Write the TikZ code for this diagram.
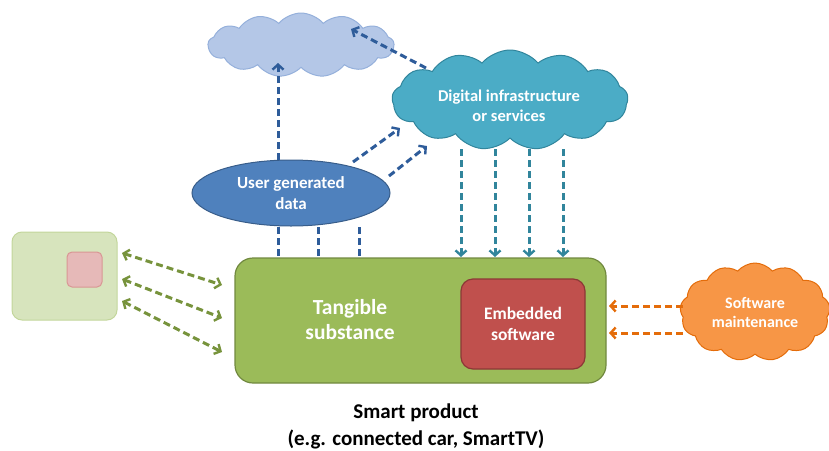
\documentclass[tikz,border=0pt]{standalone}
\usepackage{fontspec}
\setmainfont{Carlito}
\usetikzlibrary{shapes.symbols,shapes.geometric,arrows.meta}
\definecolor{lcloud}{HTML}{B4C7E7}
\definecolor{lcloudb}{HTML}{95B0DB}
\definecolor{dcloud}{HTML}{4BACC6}
\definecolor{dcloudb}{HTML}{31859C}
\definecolor{ugd}{HTML}{4F81BD}
\definecolor{ugdb}{HTML}{385D8A}
\definecolor{gbox}{HTML}{9BBB59}
\definecolor{gboxb}{HTML}{71893F}
\definecolor{rbox}{HTML}{C0504D}
\definecolor{rboxb}{HTML}{8C3836}
\definecolor{lgreen}{HTML}{D7E4BD}
\definecolor{lgreenb}{HTML}{C3D69B}
\definecolor{pink}{HTML}{E6B9B8}
\definecolor{pinkb}{HTML}{D99694}
\definecolor{ocloud}{HTML}{F79646}
\definecolor{ocloudb}{HTML}{E46C0A}
\definecolor{darrow}{HTML}{2E5C9A}
\definecolor{tarrow}{HTML}{31859C}
\definecolor{garrow}{HTML}{77933C}
\definecolor{oarrow}{HTML}{E46C0A}
\tikzset{
  cloudnode/.style={cloud, cloud puffs=13, cloud puff arc=100, cloud ignores aspect, line width=1pt, inner sep=0pt},
  wtext/.style={text=white, font=\bfseries, align=center},
  dasharr/.style={line width=3pt, dash pattern=on 7pt off 4pt},
  tip/.style={-{Straight Barb[length=5pt,width=11pt,line width=2.4pt]}},
  dtip/.style={{Straight Barb[length=5pt,width=11pt,line width=2.4pt]}-{Straight Barb[length=5pt,width=11pt,line width=2.4pt]}}
}
\begin{document}
\begin{tikzpicture}[x=1pt,y=-1pt]
\useasboundingbox (0,0) rectangle (829,450);
% nodes
\node[cloudnode, fill=lcloud, draw=lcloudb, minimum width=186pt, minimum height=64pt] (lc) at (301,45) {};
\node[cloudnode, fill=dcloud, draw=dcloudb, minimum width=236pt, minimum height=100pt] (dc) at (510,100) {};
\node[wtext, font=\bfseries\fontsize{16.5}{20}\selectfont] (dct) at (509,106) {Digital infrastructure\\or services};
\node[ellipse, fill=ugd, draw=ugdb, line width=1pt, minimum width=198pt, minimum height=66pt, wtext, font=\bfseries\fontsize{17}{21}\selectfont] (ud) at (291,193) {User generated\\data};
\node[rounded corners=18pt, fill=gbox, draw=gboxb, line width=1.2pt, minimum width=371pt, minimum height=125pt] (tb) at (420.5,320.5) {};
\node[wtext, font=\bfseries\fontsize{21.5}{25}\selectfont] (tt) at (350,320) {Tangible\\substance};
\node[rounded corners=12pt, fill=rbox, draw=rboxb, line width=1.2pt, minimum width=124pt, minimum height=90pt, wtext, font=\bfseries\fontsize{17.5}{21}\selectfont] (es) at (523,324) {Embedded\\software};
\node[rounded corners=10pt, fill=lgreen, draw=lgreenb, line width=1pt, minimum width=105pt, minimum height=88pt] (sb) at (64.5,276) {};
\node[rounded corners=5pt, fill=pink, draw=pinkb, line width=1pt, minimum width=35pt, minimum height=35pt] (pk) at (84.5,269.5) {};
\node[cloudnode, fill=ocloud, draw=ocloudb, minimum width=150pt, minimum height=98pt, wtext, font=\bfseries\fontsize{16}{19}\selectfont] (oc) at (755,312) {Software\\maintenance};
\node[font=\bfseries\fontsize{21}{27}\selectfont, align=center] (sp) at (416,426) {Smart product\\(e.g. connected car, SmartTV)};
% coordinates
\coordinate (a1s) at (278,160); \coordinate (a1e) at (278,63);
\coordinate (a2s) at (426,68); \coordinate (a2e) at (351,29);
\coordinate (a3s) at (353,162); \coordinate (a3e) at (400,128);
\coordinate (a4s) at (389,176); \coordinate (a4e) at (427,146);
% blue arrows
\draw[dasharr, darrow, tip] (a1s) -- (a1e);
\draw[dasharr, darrow, tip] (a2s) -- (a2e);
\draw[dasharr, darrow, tip] (a3s) -- (a3e);
\draw[dasharr, darrow, tip] (a4s) -- (a4e);
% ugd to box lines
\foreach \x in {278,318,359}{
  \draw[line width=3pt, darrow, dash pattern=on 7pt off 4pt] (\x,227) -- (\x,258);
}
% teal arrows
\foreach \x in {461,495,529,563}{
  \draw[dasharr, tarrow, tip] (\x,149) -- (\x,257);
}
% green arrows
\draw[dasharr, garrow, dtip] (122,253) -- (222,285);
\draw[dasharr, garrow, dtip] (122,279) -- (222,318);
\draw[dasharr, garrow, dtip] (122,301) -- (222,352);
% orange arrows
\draw[dasharr, oarrow, tip] (683,306) -- (609,306);
\draw[dasharr, oarrow, tip] (683,333) -- (609,333);
\end{tikzpicture}
\end{document}
